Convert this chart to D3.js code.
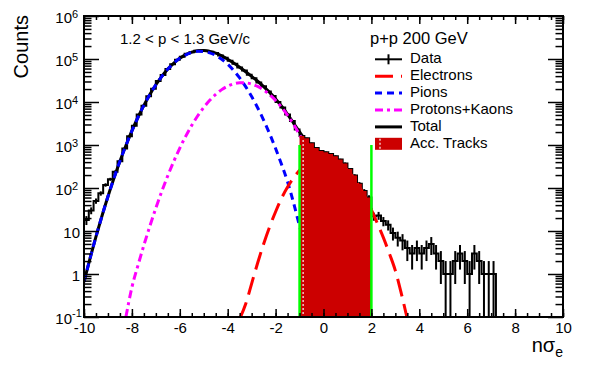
<!DOCTYPE html>
<html><head><meta charset="utf-8">
<script src="https://cdn.jsdelivr.net/npm/d3@7"></script>
<style>
body{margin:0;background:#fff;}
svg{display:block;font-family:"Liberation Sans",Arial,Helvetica,sans-serif;}
</style></head><body>
<svg id="chart" width="600" height="365"></svg>
<script>
// ---------------- data ----------------
const binLow = -10, binWidth = 0.2;
const dataCounts = [
  18, 30, 50, 75, 118, 160, 240, 420, 830, 1600,
  2800, 5100, 8200, 13600, 20300, 30800, 42500, 58900, 75400, 95600,
  112900, 131800, 144100, 154600, 157000, 156100, 147000, 137200, 121300, 107500,
  90700, 77800, 63800, 53700, 43200, 35900, 28400, 23100, 17600, 13800,
  10000, 7400, 5100, 3600, 2300, 1620, 1445, 1100, 850, 725,
  676, 617, 550, 457, 372, 275, 195, 126, 85, 60,
  22, 23, 17, 14, 9, 7, 6, 4, 3, 4,
  3, 4, 5, 3, 2, 1, 1, 2, 3, 2,
  1, 3, 2, 1, 1, 1, 0, 0, 0, 0,
  0, 0, 0, 0, 0, 0, 0, 0, 0, 0
];
const accRange = [-1, 2];
const accCut = 1000;

const pionX = [-10,-9.75,-9.5,-9.25,-9,-8.75,-8.5,-8.25,-8,-7.75,-7.5,-7.25,-7,-6.75,-6.5,-6.25,-6,-5.75,-5.5,-5.25,-5,-4.75,-4.5,-4.25,-4,-3.75,-3.5,-3.25,-3,-2.75,-2.5,-2.25,-2,-1.75,-1.5,-1.25,-1,-0.75];
const pionY = [0.66,2.28,7.4,22.3,63.4,168,420,977,2130,4360,8340,14960,25120,39500,58200,80200,103600,125300,141900,150600,149600,139200,121300,98900,75600,54120,36270,22770,13380,7370,3800,1834,829,351,139,45,13,4];

const pkX = [-8.25,-8,-7.75,-7.5,-7.25,-7,-6.75,-6.5,-6.25,-6,-5.75,-5.5,-5.25,-5,-4.75,-4.5,-4.25,-4,-3.75,-3.5,-3.25,-3,-2.75,-2.5,-2.25,-2,-1.75,-1.5,-1.25,-1,-0.75,-0.5,-0.25,0];
const pkY = [0.1,0.49,1.56,4.66,13,34.2,84.1,194,419,849,1612,2870,4786,7480,10960,15060,19390,23390,26450,28040,27880,26080,22980,19050,14870,10920,7555,4920,3015,1740,945,483,232,105];

const eleX = [-3.5,-3.25,-3,-2.75,-2.5,-2.25,-2,-1.75,-1.5,-1.25,-1,-0.75,-0.5,-0.25,0,0.25,0.5,0.75,1,1.25,1.5,1.75,2,2.25,2.5,2.75,3,3.25,3.5];
const eleY = [0.09,0.2,0.6,1.8,5.0,12.5,28,58,105,172,258,352,440,502,525,502,440,353,259,174,107,60,31,15,7,3.0,1.2,0.35,0.09];

const totX = [-10,-9.75,-9.5,-9.25,-9,-8.75,-8.5,-8.25,-8,-7.75,-7.5,-7.25,-7,-6.75,-6.5,-6.25,-6,-5.75,-5.5,-5.25,-5,-4.75,-4.5,-4.25,-4,-3.75,-3.5,-3.25,-3,-2.75,-2.5,-2.25,-2,-1.75,-1.5,-1.25,-1,-0.75,-0.5,-0.25,0,0.25,0.5,0.75,1,1.25,1.5,1.75,2];
const totY = [0.66,2.28,7.4,22.3,63.4,168,420,977,2130,4362,8345,14973,25154,39584,58394,80620,104450,126900,144770,155390,157080,150160,136360,118290,98990,80570,64310,50650,39460,30350,22856,16719,11780,7966,5166,3241,2017,1304,925,735,630,547,458,361,262,175,107,60,31];

const xTickValues = [-10,-8,-6,-4,-2,0,2,4,6,8,10];
const xTickLabels = ["-10","-8","-6","-4","-2","0","2","4","6","8","10"];
const yTickValues = [0.1,1,10,100,1000,10000,100000,1000000];
const yTickBase = ["10","1","10","10","10","10","10","10"];
const yTickExp  = ["-1","","","2","3","4","5","6"];

const legendLabels = ["Data","Electrons","Pions","Protons+Kaons","Total","Acc. Tracks"];
const rangeText = "1.2 < p < 1.3 GeV/c";
const systemText = "p+p 200 GeV";

// ---------------- drawing ----------------
const svg = d3.select("#chart");
const L = 84, R = 563, T = 16, B = 317;
const x = d3.scaleLinear().domain([-10, 10]).range([L, R]);
const y = d3.scaleLog().domain([0.1, 1e6]).range([B, T]);
const FONT = '"Liberation Sans",Arial,Helvetica,sans-serif';

svg.append("rect").attr("width",600).attr("height",365).attr("fill","#fff");
svg.append("defs").append("clipPath").attr("id","clip")
  .append("rect").attr("x",L).attr("y",T).attr("width",R-L).attr("height",B-T);
const plot = svg.append("g").attr("clip-path","url(#clip)");

const yv = v => v > 0 ? y(v) : B + 6;

// data histogram (steps)
const stepPts = [];
dataCounts.forEach((c,i) => {
  const lo = binLow + i*binWidth, hi = lo + binWidth;
  stepPts.push([lo,c],[hi,c]);
});
const stepLine = d3.line().x(d => x(d[0])).y(d => yv(d[1]));
plot.append("path").attr("d", stepLine(stepPts))
  .attr("fill","none").attr("stroke","#000").attr("stroke-width",2);

// error bars
plot.append("g").selectAll("line")
  .data(dataCounts.map((c,i) => ({c, xc: binLow + (i+0.5)*binWidth})).filter(d => d.c > 0))
  .join("line")
  .attr("x1", d => x(d.xc)).attr("x2", d => x(d.xc))
  .attr("y1", d => yv(d.c - Math.sqrt(d.c)))
  .attr("y2", d => y(d.c + Math.sqrt(d.c)))
  .attr("stroke","#000").attr("stroke-width",2);

const curve = (xs, ys) => d3.line().curve(d3.curveMonotoneX)
  .x(d => x(d[0])).y(d => y(d[1]))(xs.map((v,i) => [v, ys[i]]));

// total
plot.append("path").attr("d", curve(totX, totY))
  .attr("fill","none").attr("stroke","#000").attr("stroke-width",3);
// pions
plot.append("path").attr("d", curve(pionX, pionY))
  .attr("fill","none").attr("stroke","#0000ff").attr("stroke-width",3)
  .attr("stroke-dasharray","7,5");
// protons + kaons
plot.append("path").attr("d", curve(pkX, pkY))
  .attr("fill","none").attr("stroke","#ff00ff").attr("stroke-width",3)
  .attr("stroke-dasharray","8,4,3,4");
// electrons
plot.append("path").attr("d", curve(eleX, eleY))
  .attr("fill","none").attr("stroke","#ff0000").attr("stroke-width",3)
  .attr("stroke-dasharray","18,8");

// accepted tracks fill
const accPts = [];
dataCounts.forEach((c,i) => {
  const lo = binLow + i*binWidth, hi = lo + binWidth;
  if (lo >= accRange[0] - 1e-9 && hi <= accRange[1] + 1e-9) accPts.push([lo,c],[hi,c]);
});
const accArea = d3.area().x(d => x(d[0])).y0(B).y1(d => yv(d[1]));
plot.append("path").attr("d", accArea(accPts)).attr("fill","#cc0000");
// faint dotted hatch line inside fill
plot.append("line")
  .attr("x1", x(-0.85)).attr("x2", x(-0.85))
  .attr("y1", yv(accPts[0][1]) + 4).attr("y2", B)
  .attr("stroke","#f2c8c8").attr("stroke-width",1.5).attr("stroke-dasharray","2,2");

// cut lines
plot.selectAll("line.cut").data(accRange).join("line").attr("class","cut")
  .attr("x1", d => x(d)).attr("x2", d => x(d))
  .attr("y1", y(0.1)).attr("y2", y(accCut))
  .attr("stroke","#00ff00").attr("stroke-width",2.5);

// ---------------- axes ----------------
function styleAxis(g, fs) {
  g.select(".domain").remove();
  g.attr("font-family", FONT).attr("font-size", fs || 15);
  g.selectAll(".tick line").attr("stroke","#000").attr("stroke-width",1.5);
  g.selectAll(".tick text").attr("fill","#000");
}
const xMinor = d3.range(-10, 10.001, 0.5);
svg.append("g").attr("transform",`translate(0,${B})`)
  .call(d3.axisBottom(x).tickValues(xTickValues).tickSize(-8).tickPadding(5.5)
    .tickFormat((d,i) => xTickLabels[i]))
  .call(g => styleAxis(g));
svg.append("g").attr("transform",`translate(0,${B})`)
  .call(d3.axisBottom(x).tickValues(xMinor).tickSize(-4).tickFormat(""))
  .call(g => styleAxis(g));
svg.append("g").attr("transform",`translate(0,${T})`)
  .call(d3.axisTop(x).tickValues(xTickValues).tickSize(-8).tickFormat(""))
  .call(g => styleAxis(g));
svg.append("g").attr("transform",`translate(0,${T})`)
  .call(d3.axisTop(x).tickValues(xMinor).tickSize(-4).tickFormat(""))
  .call(g => styleAxis(g));

const yMinor = [];
yTickValues.slice(0,-1).forEach(d => { for (let m = 2; m <= 9; m++) yMinor.push(d*m); });

const leftAxis = svg.append("g").attr("transform",`translate(${L},0)`)
  .call(d3.axisLeft(y).tickValues(yTickValues).tickSize(-15).tickPadding(4)
    .tickFormat((d,i) => yTickBase[i]))
  .call(g => styleAxis(g));
leftAxis.selectAll(".tick").each(function(d,i) {
  const g = d3.select(this);
  const t = g.select("text").attr("dy","0.45em");
  if (yTickExp[i]) {
    t.attr("x", -12);
    g.append("text").attr("x",-12).attr("y",0).attr("dy", i === 0 ? "-1" : "1")
      .attr("text-anchor","start").attr("font-size",11).attr("fill","#000")
      .text(yTickExp[i]);
  }
});
svg.append("g").attr("transform",`translate(${L},0)`)
  .call(d3.axisLeft(y).tickValues(yMinor).tickSize(-7.5).tickFormat(""))
  .call(g => styleAxis(g));
svg.append("g").attr("transform",`translate(${R},0)`)
  .call(d3.axisRight(y).tickValues(yTickValues).tickSize(-15).tickFormat(""))
  .call(g => styleAxis(g));
svg.append("g").attr("transform",`translate(${R},0)`)
  .call(d3.axisRight(y).tickValues(yMinor).tickSize(-7.5).tickFormat(""))
  .call(g => styleAxis(g));

// frame
svg.append("rect").attr("x",L).attr("y",T).attr("width",R-L).attr("height",B-T)
  .attr("fill","none").attr("stroke","#000").attr("stroke-width",2);

// axis titles
svg.append("text").attr("transform","translate(28,15) rotate(-90)")
  .attr("text-anchor","end").attr("font-size",20).attr("fill","#000").text("Counts");
const xt = svg.append("text").attr("x",R).attr("y",352).attr("text-anchor","end")
  .attr("font-size",20).attr("fill","#000");
xt.append("tspan").text("nσ");
xt.append("tspan").attr("font-size",14).attr("dy",5).text("e");

// annotations
svg.append("text").attr("x",120).attr("y",44).attr("font-size",15).attr("fill","#000").text(rangeText);
svg.append("text").attr("x",370).attr("y",43.5).attr("font-size",16.5).attr("fill","#000").text(systemText);

// legend
const lg = svg.append("g");
const lx0 = 375, lx1 = 402, ltx = 410;
const lBase = [63.3, 80.2, 97.1, 114, 130.9, 147.8];
lg.selectAll("text").data(legendLabels).join("text")
  .attr("x", ltx).attr("y", (d,i) => lBase[i]).attr("font-size",15).attr("fill","#000").text(d => d);
const sy = i => lBase[i] - 4;
// Data
lg.append("line").attr("x1",lx0).attr("x2",lx1).attr("y1",sy(0)).attr("y2",sy(0)).attr("stroke","#000").attr("stroke-width",2);
lg.append("line").attr("x1",(lx0+lx1)/2).attr("x2",(lx0+lx1)/2).attr("y1",sy(0)-5).attr("y2",sy(0)+5).attr("stroke","#000").attr("stroke-width",2);
// Electrons
lg.append("line").attr("x1",lx0).attr("x2",lx1).attr("y1",sy(1)).attr("y2",sy(1)).attr("stroke","#ff0000").attr("stroke-width",3).attr("stroke-dasharray","18,8");
// Pions
lg.append("line").attr("x1",lx0).attr("x2",lx1).attr("y1",sy(2)).attr("y2",sy(2)).attr("stroke","#0000ff").attr("stroke-width",3).attr("stroke-dasharray","7,5");
// P+K
lg.append("line").attr("x1",lx0).attr("x2",lx1).attr("y1",sy(3)).attr("y2",sy(3)).attr("stroke","#ff00ff").attr("stroke-width",3).attr("stroke-dasharray","8,4,3,4");
// Total
lg.append("line").attr("x1",lx0).attr("x2",lx1).attr("y1",sy(4)).attr("y2",sy(4)).attr("stroke","#000").attr("stroke-width",3);
// Acc tracks
lg.append("rect").attr("x",lx0).attr("y",sy(5)-6).attr("width",lx1-lx0).attr("height",12).attr("fill","#cc0000");
lg.append("line").attr("x1",lx0+5).attr("x2",lx0+5).attr("y1",sy(5)-5).attr("y2",sy(5)+6)
  .attr("stroke","#f2c8c8").attr("stroke-width",1.5).attr("stroke-dasharray","2,2");
</script>
</body></html>
